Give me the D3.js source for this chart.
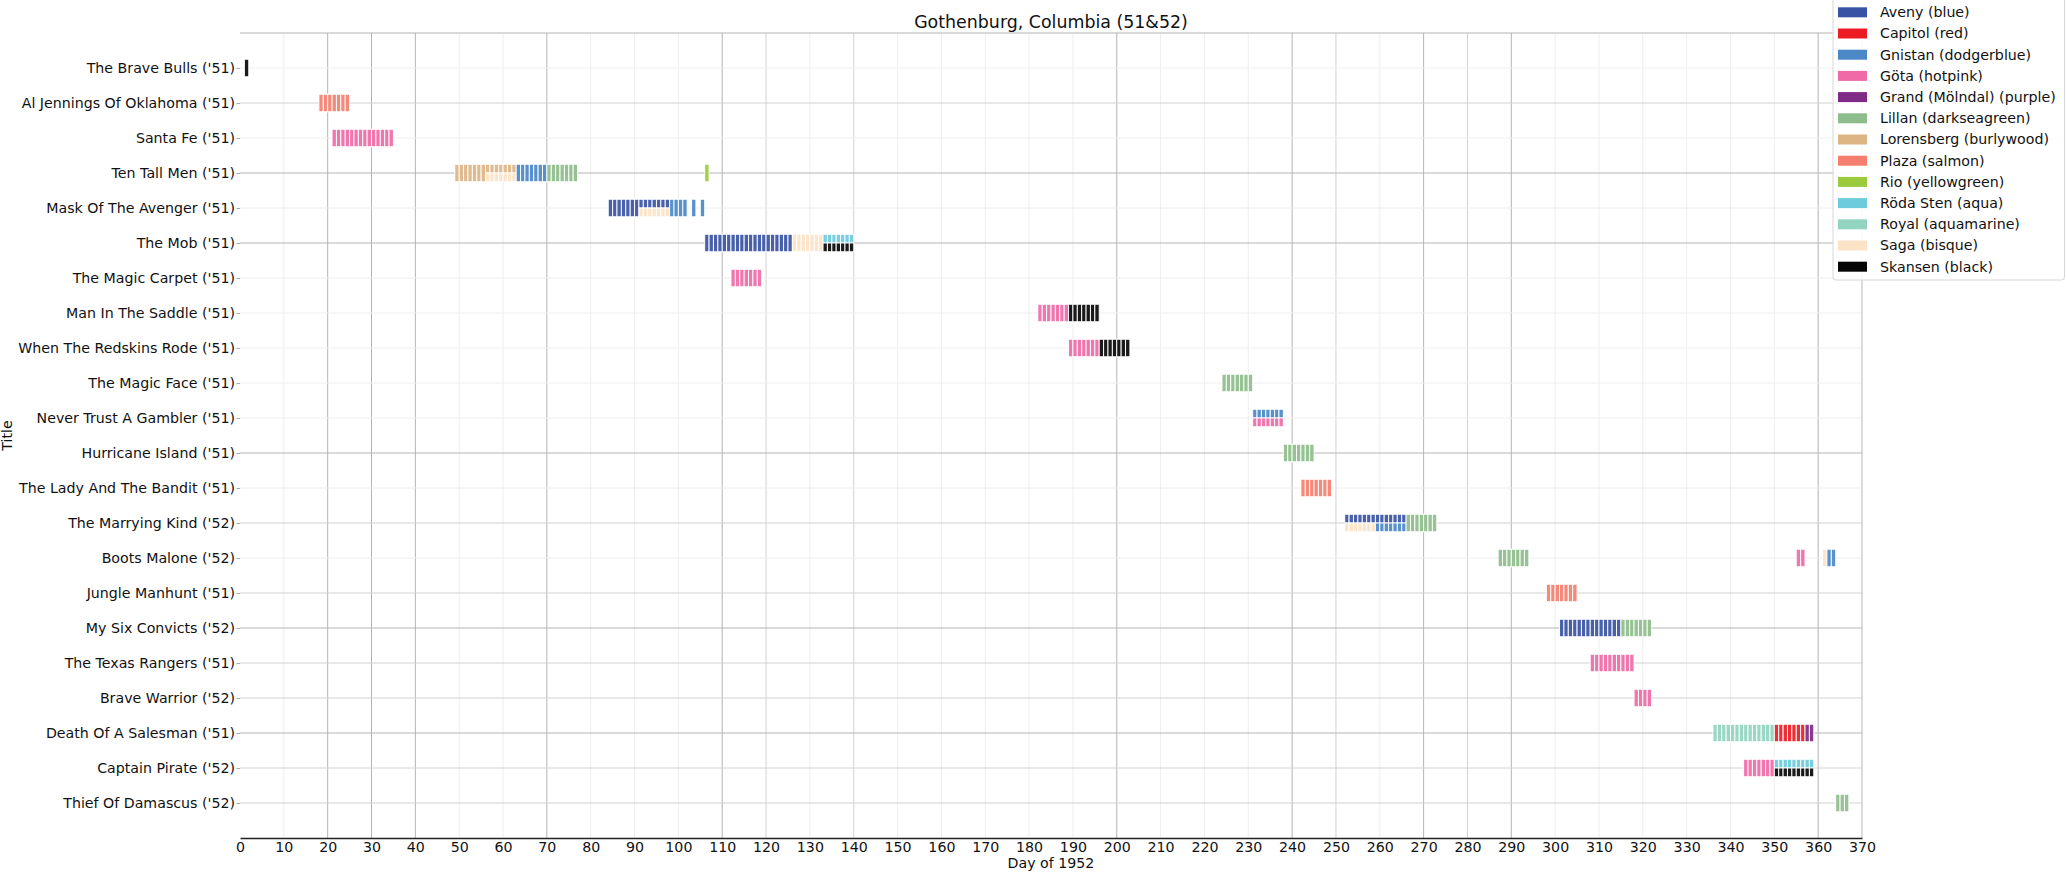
<!DOCTYPE html>
<html>
<head>
<meta charset="utf-8">
<script src="https://cdn.jsdelivr.net/npm/d3@7/dist/d3.min.js"></script>
<style>
  html, body { margin: 0; padding: 0; background: #fff; }
  svg { display: block; font-family: "DejaVu Sans", sans-serif; }
</style>
</head>
<body>
<svg id="chart" width="2066" height="872"></svg>
<script>
// ---------------- data ----------------
const chartTitle = "Gothenburg, Columbia (51&52)";
const xAxisTitle = "Day of 1952";
const yAxisTitle = "Title";

const titles = [
  "The Brave Bulls ('51)",
  "Al Jennings Of Oklahoma ('51)",
  "Santa Fe ('51)",
  "Ten Tall Men ('51)",
  "Mask Of The Avenger ('51)",
  "The Mob ('51)",
  "The Magic Carpet ('51)",
  "Man In The Saddle ('51)",
  "When The Redskins Rode ('51)",
  "The Magic Face ('51)",
  "Never Trust A Gambler ('51)",
  "Hurricane Island ('51)",
  "The Lady And The Bandit ('51)",
  "The Marrying Kind ('52)",
  "Boots Malone ('52)",
  "Jungle Manhunt ('51)",
  "My Six Convicts ('52)",
  "The Texas Rangers ('51)",
  "Brave Warrior ('52)",
  "Death Of A Salesman ('51)",
  "Captain Pirate ('52)",
  "Thief Of Damascus ('52)"
];

const cinemas = ["Aveny", "Capitol", "Gnistan", "Göta", "Grand (Mölndal)", "Lillan",
  "Lorensberg", "Plaza", "Rio", "Röda Sten", "Royal", "Saga", "Skansen"];
const cinemaColourNames = ["blue", "red", "dodgerblue", "hotpink", "purple", "darkseagreen",
  "burlywood", "salmon", "yellowgreen", "aqua", "aquamarine", "bisque", "black"];

// [title index, cinema, first day, last day] (inclusive days of 1952)
const showings = [
  [0, "Skansen", 1, 1],
  [1, "Plaza", 18, 24],
  [2, "Göta", 21, 34],
  [3, "Lorensberg", 49, 62],
  [3, "Saga", 56, 62],
  [3, "Gnistan", 63, 69],
  [3, "Lillan", 70, 76],
  [3, "Rio", 106, 106],
  [4, "Aveny", 84, 97],
  [4, "Saga", 91, 97],
  [4, "Gnistan", 98, 101],
  [4, "Gnistan", 103, 103],
  [4, "Gnistan", 105, 105],
  [5, "Aveny", 106, 125],
  [5, "Saga", 126, 132],
  [5, "Röda Sten", 133, 139],
  [5, "Skansen", 133, 139],
  [6, "Göta", 112, 118],
  [7, "Göta", 182, 188],
  [7, "Skansen", 189, 195],
  [8, "Göta", 189, 195],
  [8, "Skansen", 196, 202],
  [9, "Lillan", 224, 230],
  [10, "Gnistan", 231, 237],
  [10, "Göta", 231, 237],
  [11, "Lillan", 238, 244],
  [12, "Plaza", 242, 248],
  [13, "Aveny", 252, 265],
  [13, "Saga", 252, 258],
  [13, "Gnistan", 259, 265],
  [13, "Lillan", 266, 272],
  [14, "Lillan", 287, 293],
  [14, "Göta", 355, 356],
  [14, "Saga", 361, 361],
  [14, "Gnistan", 362, 363],
  [15, "Plaza", 298, 304],
  [16, "Aveny", 301, 314],
  [16, "Lillan", 315, 321],
  [17, "Göta", 308, 317],
  [18, "Göta", 318, 321],
  [19, "Royal", 336, 349],
  [19, "Capitol", 350, 356],
  [19, "Grand (Mölndal)", 357, 358],
  [20, "Göta", 343, 349],
  [20, "Röda Sten", 350, 358],
  [20, "Skansen", 350, 358],
  [21, "Lillan", 364, 366]
];

const xTickValues = [0,10,20,30,40,50,60,70,80,90,100,110,120,130,140,150,160,170,180,
  190,200,210,220,230,240,250,260,270,280,290,300,310,320,330,340,350,360,370];

// ---------------- styles ----------------
const cinemaColours = ["#3953a4", "#ec1c24", "#4a88c8", "#ef6aa7", "#7f2a87", "#8dbd8b",
  "#ddb585", "#f47f6f", "#9bcb3c", "#6dcbdd", "#93d4c0", "#fde3c6", "#060606"];
const strongGridX = [20, 30, 40, 70, 110, 200, 240, 270, 290, 360];
const midGridX = [120, 140, 250, 280];
const strongGridY = [3, 5, 11, 16, 19];
const midGridY = [1, 13, 15, 17, 18, 20, 21];

// ---------------- layout ----------------
const W = 2066, H = 872;
const pLeft = 240, pRight = 1862, pTop = 33, pBottom = 838;
const FS = 14.2;

const svg = d3.select("#chart");
const x = d3.scaleLinear().domain([0, 370]).range([pLeft, pRight]);
const y = d3.scaleLinear().domain([-1, titles.length]).range([pTop, pBottom]);
const colour = d3.scaleOrdinal().domain(cinemas).range(cinemaColours);

// grid lines
const gridColour = (v, strong, mid) =>
  strong.includes(v) ? "#b4b4b4" : (mid.includes(v) ? "#d2d2d2" : "#eeeeee");

svg.append("g").selectAll("line")
  .data(xTickValues.filter(v => v > 0 && v < 370))
  .join("line")
  .attr("x1", d => x(d)).attr("x2", d => x(d))
  .attr("y1", pTop).attr("y2", pBottom)
  .attr("stroke", d => gridColour(d, strongGridX, midGridX))
  .attr("stroke-width", 1);

svg.append("g").selectAll("line")
  .data(d3.range(titles.length))
  .join("line")
  .attr("x1", pLeft).attr("x2", pRight)
  .attr("y1", d => y(d)).attr("y2", d => y(d))
  .attr("stroke", d => gridColour(d, strongGridY, midGridY))
  .attr("stroke-width", 1);

// top & right spines
svg.append("line").attr("x1", pLeft).attr("x2", pRight).attr("y1", pTop).attr("y2", pTop)
  .attr("stroke", "#b4b4b4").attr("stroke-width", 1.2);
svg.append("line").attr("x1", pRight).attr("x2", pRight).attr("y1", pTop).attr("y2", pBottom)
  .attr("stroke", "#c4c4c4").attr("stroke-width", 1.2);

// ---------------- bars (one rect per day) ----------------
const slotMap = new Map();
showings.forEach(([t, c, a, b]) => {
  for (let d = a; d <= b; d++) {
    const k = t + "|" + d;
    if (!slotMap.has(k)) slotMap.set(k, []);
    slotMap.get(k).push(c);
  }
});
slotMap.forEach(list => list.sort((p, q) => cinemas.indexOf(p) - cinemas.indexOf(q)));

const dayRects = [];
showings.forEach(([t, c, a, b]) => {
  for (let d = a; d <= b; d++) {
    const list = slotMap.get(t + "|" + d);
    dayRects.push({ t, c, d, k: list.indexOf(c), n: list.length });
  }
});

const barH = y(0.5) - y(0);
svg.append("g").selectAll("rect")
  .data(dayRects)
  .join("rect")
  .attr("x", r => x(r.d))
  .attr("width", r => x(r.d + 1) - x(r.d))
  .attr("y", r => y(r.t) - barH / 2 + r.k * barH / r.n)
  .attr("height", r => barH / r.n)
  .attr("fill", r => colour(r.c))
  .attr("fill-opacity", 0.92)
  .attr("stroke", "#fff")
  .attr("stroke-opacity", 0.95)
  .attr("stroke-width", 1);

// ---------------- axes ----------------
const xAxis = svg.append("g")
  .attr("transform", `translate(0,${pBottom})`)
  .call(d3.axisBottom(x).tickValues(xTickValues).tickFormat(d3.format("d"))
    .tickSize(0).tickPadding(4));
xAxis.select(".domain").attr("stroke", "#222").attr("stroke-width", 1.3);
xAxis.selectAll("text").attr("font-size", FS).attr("fill", "#111")
  .attr("font-family", "DejaVu Sans");

const yAxis = svg.append("g")
  .attr("transform", `translate(${pLeft},0)`)
  .call(d3.axisLeft(y).tickValues(d3.range(titles.length)).tickFormat(i => titles[i])
    .tickSize(3.5).tickPadding(1.5));
yAxis.select(".domain").remove();
yAxis.selectAll(".tick line").attr("stroke", "#aaa");
yAxis.selectAll("text").attr("font-size", FS).attr("fill", "#111")
  .attr("font-family", "DejaVu Sans");

// titles
svg.append("text").attr("x", (pLeft + pRight) / 2).attr("y", 28)
  .attr("text-anchor", "middle").attr("font-size", 17.4).attr("fill", "#111")
  .text(chartTitle);
svg.append("text").attr("x", (pLeft + pRight) / 2).attr("y", 868)
  .attr("text-anchor", "middle").attr("font-size", FS).attr("fill", "#111")
  .text(xAxisTitle);
svg.append("text").attr("transform", `translate(12,${(pTop + pBottom) / 2}) rotate(-90)`)
  .attr("text-anchor", "middle").attr("font-size", FS).attr("fill", "#111")
  .text(yAxisTitle);

// ---------------- legend ----------------
const lg = svg.append("g");
const lgLeft = 1833, lgFirst = 12.3, lgStep = 21.2;
lg.append("rect").attr("x", lgLeft).attr("y", -6).attr("width", W - lgLeft - 1.5)
  .attr("height", 286).attr("rx", 3)
  .attr("fill", "#fff").attr("fill-opacity", 0.9)
  .attr("stroke", "#d6d6d6").attr("stroke-width", 1);
const items = lg.selectAll("g.item").data(cinemas).join("g").attr("class", "item")
  .attr("transform", (d, i) => `translate(0,${lgFirst + i * lgStep})`);
items.append("rect").attr("x", 1838).attr("y", -5).attr("width", 29).attr("height", 10)
  .attr("fill", d => colour(d));
items.append("text").attr("x", 1880).attr("y", 0).attr("dy", "0.35em")
  .attr("font-size", FS).attr("fill", "#111")
  .text((d, i) => `${d} (${cinemaColourNames[i]})`);
</script>
</body>
</html>
